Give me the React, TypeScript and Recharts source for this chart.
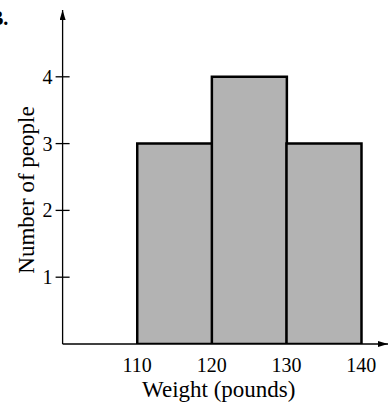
import { ComposedChart, Bar, XAxis, YAxis, Label } from "recharts";

const binMids = [115, 125, 135];
const counts = [3, 4, 3];
const xTicks = [110, 120, 130, 140];
const yTicks = [1, 2, 3, 4];

const data = binMids.map((w, i) => ({ weight: w, people: counts[i] }));

const FONT = '"Liberation Serif", "Times New Roman", serif';

function YTick(props: any) {
  const { x, y, payload } = props;
  return (
    <g>
      <line x1={x - 7} x2={x + 7} y1={y} y2={y} stroke="#000" strokeWidth={1.3} />
      <text x={x - 10} y={y} dy="0.35em" textAnchor="end" fontSize={20} fontFamily={FONT} fill="#000">
        {payload.value}
      </text>
    </g>
  );
}

function YTitle(props: any) {
  const { viewBox } = props;
  const cx = viewBox.x + 3;
  const cy = viewBox.y + viewBox.height / 2 + 13;
  return (
    <text
      x={cx}
      y={cy}
      dy="0.35em"
      textAnchor="middle"
      transform={`rotate(-90, ${cx}, ${cy})`}
      fontSize={23}
      fontFamily={FONT}
      fill="#000"
    >
      Number of people
    </text>
  );
}

function XTitle(props: any) {
  const { viewBox } = props;
  const cx = viewBox.x + viewBox.width / 2 - 6.5;
  return (
    <text x={cx} y={viewBox.y + 53} textAnchor="middle" fontSize={23} fontFamily={FONT} fill="#000">
      Weight (pounds)
    </text>
  );
}

export default function App() {
  return (
    <div style={{ position: "absolute", left: 0, top: 0, width: 390, height: 402, background: "#fff" }}>
      <svg width={0} height={0} style={{ position: "absolute" }}>
        <defs>
          <marker
            id="axisArrow"
            viewBox="0 0 10 6"
            refX={10}
            refY={3}
            markerWidth={10}
            markerHeight={6}
            markerUnits="userSpaceOnUse"
            orient="auto-start-reverse"
          >
            <path d="M0,0 L10,3 L0,6 Z" fill="#000" />
          </marker>
        </defs>
      </svg>
      <div
        style={{
          position: "absolute",
          left: -10,
          top: 6,
          fontFamily: FONT,
          fontWeight: "bold",
          fontSize: 20,
          lineHeight: "24px",
        }}
      >
        B.
      </div>
      <ComposedChart
        width={390}
        height={402}
        data={data}
        margin={{ top: 10, right: 2, left: 22.6, bottom: 0 }}
        barCategoryGap={0}
        barGap={0}
      >
        <XAxis
          dataKey="weight"
          type="number"
          domain={[100, 143.6]}
          allowDataOverflow
          ticks={xTicks}
          height={58}
          tickLine={false}
          tickSize={6}
          tickMargin={8}
          axisLine={{ stroke: "#000", strokeWidth: 1.3, markerEnd: "url(#axisArrow)" }}
          tick={{ fontSize: 20, fontFamily: FONT, fill: "#000" }}
        >
          <Label content={XTitle} />
        </XAxis>
        <YAxis
          type="number"
          domain={[0, 5]}
          allowDataOverflow
          ticks={yTicks}
          width={40}
          tickLine={false}
          tickSize={0}
          tickMargin={0}
          axisLine={{ stroke: "#000", strokeWidth: 1.3, markerStart: "url(#axisArrow)" }}
          tick={YTick}
        >
          <Label content={YTitle} />
        </YAxis>
        <Bar dataKey="people" fill="#b3b3b3" stroke="#000" strokeWidth={2.5} isAnimationActive={false} />
      </ComposedChart>
    </div>
  );
}
